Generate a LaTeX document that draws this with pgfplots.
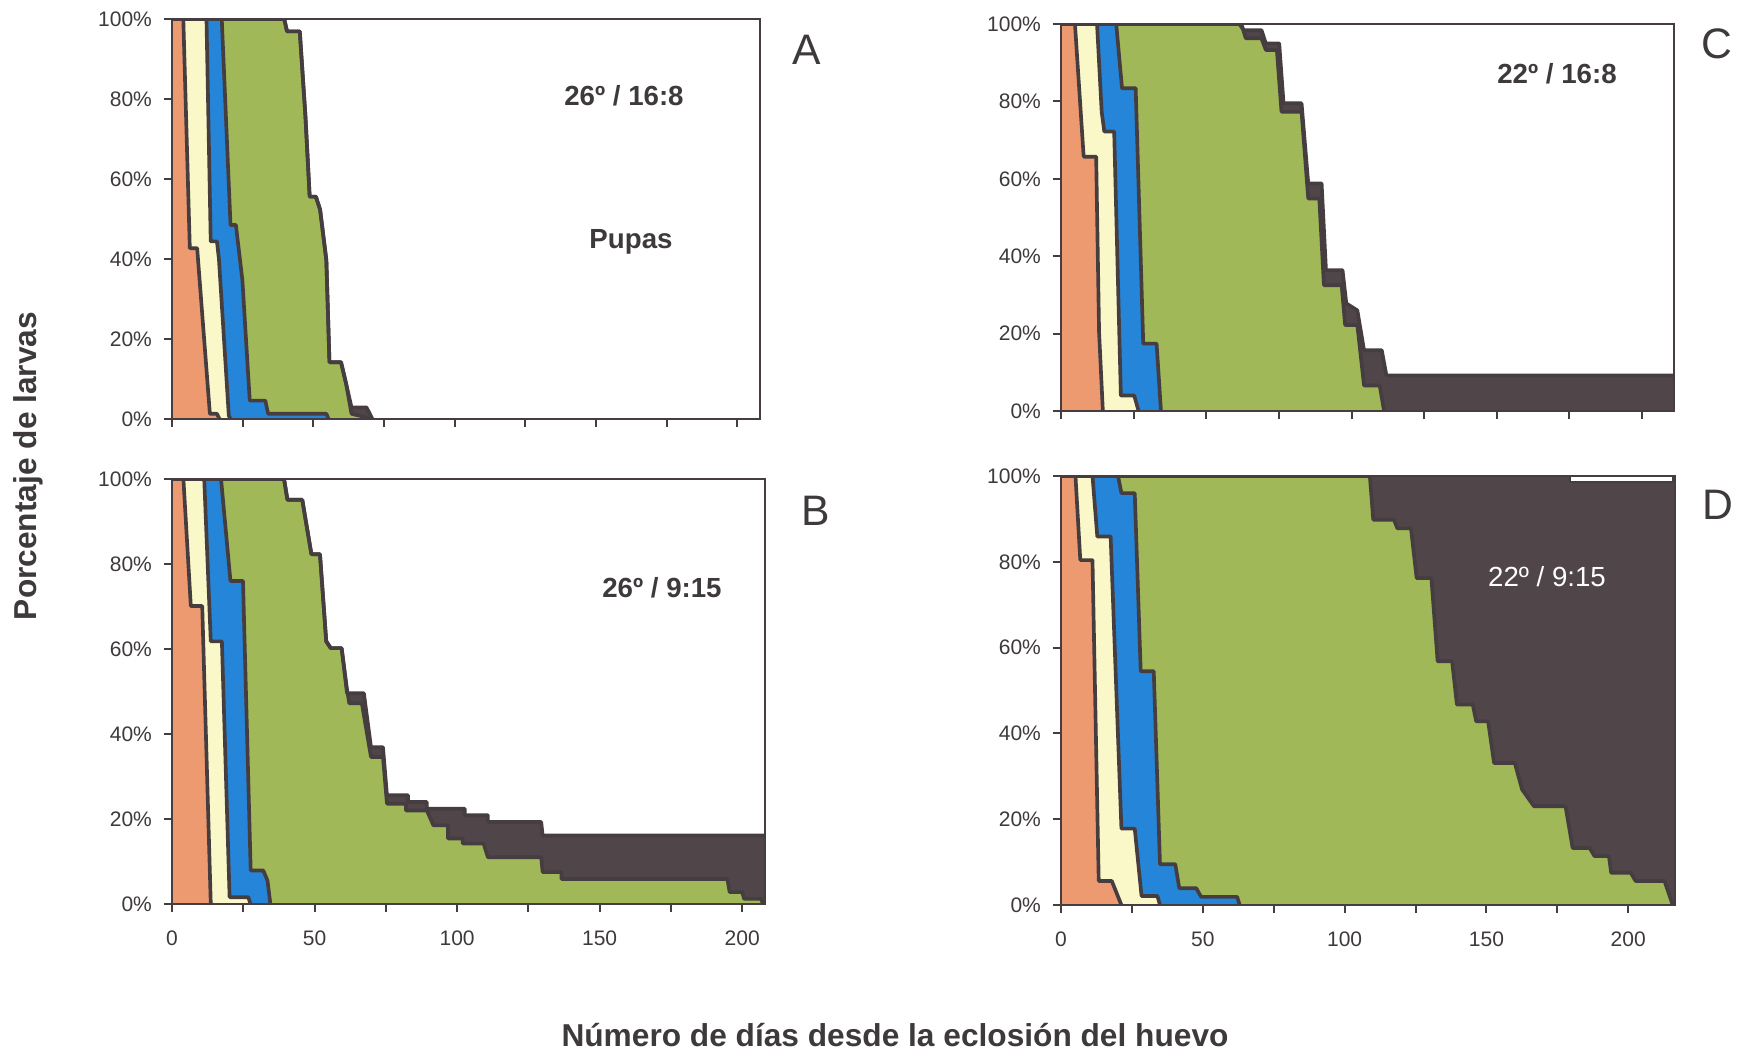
\documentclass[border=0pt]{standalone}
\usepackage{pgfplots}
\pgfplotsset{compat=1.18}
\usepackage{fontspec}
\setmainfont{Liberation Sans}
\definecolor{cor}{HTML}{EE9A70}
\definecolor{cye}{HTML}{FAF8C8}
\definecolor{cbl}{HTML}{2585D8}
\definecolor{cgr}{HTML}{A0B858}
\definecolor{cdk}{HTML}{504548}
\definecolor{cln}{HTML}{453D40}
\definecolor{txt}{HTML}{3E393B}
\pgfplotsset{
 panel/.style={scale only axis, anchor=north west, axis on top, xmin=0, ymin=0, ymax=100,
  axis line style={draw=cln, line width=0.7pt},
  tick align=outside, major tick length=2.5pt, minor tick length=2.5pt,
  tick style={draw=cln, line width=0.6pt},
  xtick pos=bottom, ytick pos=left,
  ytick={0,20,...,100}, yticklabel={\pgfmathprintnumber{\tick}\%},
  xtick={0,50,...,200}, minor xtick={25,75,...,200},
  ticklabel style={font=\fontsize{6.3}{7}\selectfont, text=txt},
  xticklabel style={yshift=-2pt},
  /pgf/number format/assume math mode=true},
 f1/.style={fill=cor, draw=none},
 f2/.style={fill=cye, draw=none},
 f3/.style={fill=cbl, draw=none},
 f4/.style={fill=cgr, draw=none},
 f5/.style={fill=cdk, draw=none},
 bd/.style={draw=cln, line width=1.1pt, line join=round, mark=none},
}
\begin{document}
\begin{tikzpicture}
\useasboundingbox (0,0) rectangle (521.7pt,-315.3pt);
% ---------------- Panel A ----------------
\begin{axis}[panel, at={(51.6pt,-5.7pt)}, width=176.4pt, height=120pt, xmax=208, xticklabels={}]
\def\cA{(0,100)(4.0,100)(6.3,42.7)(8.9,42.7)(13.4,1.3)(15.9,1.3)(16.8,0)}
\def\cB{(0,100)(12.2,100)(13.7,44.4)(15.9,44.4)(16.6,40)(20.1,0.8)(20.7,0)}
\def\cC{(0,100)(17.6,100)(20.7,48.5)(22.6,48.5)(24.9,34.7)(27.5,4.6)(33.0,4.6)(34.0,1.3)(54.6,1.3)(55.4,0)}
\def\cD{(0,100)(39.7,100)(40.7,96.9)(45.2,96.9)(47.2,75.7)(48.7,55.6)(50.9,55.6)(52.4,52.3)(54.6,39.7)(55.7,14.2)(59.8,14.2)(61.6,8.8)(63.5,1.3)(68.8,0.4)(69.3,0)}
\def\cE{(0,100)(39.7,100)(40.7,96.9)(45.2,96.9)(47.2,75.7)(48.7,55.6)(50.9,55.6)(52.4,52.3)(54.6,39.7)(55.7,14.2)(59.8,14.2)(61.6,8.8)(63.5,2.9)(68.8,2.9)(70.9,0)}
\addplot[f5] coordinates \cE \closedcycle;
\addplot[f4] coordinates \cD \closedcycle;
\addplot[f3] coordinates \cC \closedcycle;
\addplot[f2] coordinates \cB \closedcycle;
\addplot[f1] coordinates \cA \closedcycle;
\addplot[bd] coordinates \cE;
\addplot[bd] coordinates \cD;
\addplot[bd] coordinates \cC;
\addplot[bd] coordinates \cB;
\addplot[bd] coordinates \cA;
\end{axis}
% ---------------- Panel B ----------------
\begin{axis}[panel, at={(51.6pt,-143.7pt)}, width=177.9pt, height=127.5pt, xmax=208]
\def\cA{(0,100)(4.0,100)(6.6,70.1)(10.6,70.1)(13.6,0)}
\def\cB{(0,100)(11.3,100)(13.6,61.8)(17.5,61.8)(20.2,1.6)(26.8,1.6)(27.5,0)}
\def\cC{(0,100)(17.2,100)(20.5,76)(24.9,76)(27.6,7.9)(32.0,7.9)(33.5,5.5)(34.5,0)}
\def\cD{(0,100)(39.3,100)(40.5,95.1)(45.7,95.1)(48.9,82.3)(51.9,82.3)(54.1,61.8)(55.7,60.2)(59.5,60.2)(61.4,50.4)(62.2,47.2)(66.6,47.2)(69.8,34.6)(74.0,34.6)(75.4,23.6)(82.1,23.6)(82.1,22.0)(89.4,22.0)(91.7,18.5)(96.8,18.5)(96.8,15.4)(102.0,15.4)(102.0,14.2)(109.3,14.2)(110.8,11.0)(129.5,11.0)(130.0,7.5)(136.6,7.5)(136.6,5.9)(194.8,5.9)(195.6,2.8)(200.0,2.8)(200.7,1.2)(206.6,1.2)(207.3,0)}
\def\cE{(0,100)(39.3,100)(40.5,95.1)(45.7,95.1)(48.9,82.3)(51.9,82.3)(54.1,61.8)(55.7,60.2)(59.5,60.2)(61.4,49.6)(67.3,49.6)(69.8,36.9)(74.0,36.9)(75.4,25.6)(82.8,25.6)(82.8,24.0)(89.4,24.0)(89.4,22.4)(102.7,22.4)(102.7,20.9)(110.8,20.9)(110.8,19.3)(129.5,19.3)(130.0,16.1)(208,16.1)}
\addplot[f5] coordinates \cE \closedcycle;
\addplot[f4] coordinates \cD \closedcycle;
\addplot[f3] coordinates \cC \closedcycle;
\addplot[f2] coordinates \cB \closedcycle;
\addplot[f1] coordinates \cA \closedcycle;
\addplot[bd] coordinates \cE;
\addplot[bd] coordinates \cD;
\addplot[bd] coordinates \cC;
\addplot[bd] coordinates \cB;
\addplot[bd] coordinates \cA;
\end{axis}
% ---------------- Panel C ----------------
\begin{axis}[panel, at={(318.3pt,-7.2pt)}, width=183.9pt, height=116.1pt, xmax=211, xticklabels={}]
\def\cA{(0,100)(4.8,100)(7.8,65.7)(12.1,65.7)(13.1,20.4)(14.4,0)}
\def\cB{(0,100)(12.4,100)(14.0,77.3)(14.9,72.2)(18.3,72.2)(20.6,4)(25.2,4)(26.7,0)}
\def\cC{(0,100)(19.0,100)(21.0,83.4)(25.7,83.4)(28.3,17.4)(32.9,17.4)(34.4,0)}
\def\cD{(0,100)(62.1,100)(63.6,96.3)(69.0,96.3)(70.5,93.3)(74.3,93.3)(75.9,77.3)(82.8,77.3)(85.1,54.9)(88.9,54.9)(90.5,32.5)(96.6,32.5)(97.8,22.2)(102.0,22.2)(104.3,6.6)(109.7,6.6)(111.2,0)}
\def\cE{(0,100)(61.4,100)(62.9,98.4)(69.0,98.4)(70.5,95)(75.1,95)(76.6,79.5)(82.8,79.5)(85.1,58.8)(89.7,58.8)(91.2,36.4)(96.9,36.4)(98.2,27.8)(102.0,26.0)(104.3,15.7)(110.4,15.7)(112.0,9.2)(211,9.2)}
\addplot[f5] coordinates \cE \closedcycle;
\addplot[f4] coordinates \cD \closedcycle;
\addplot[f3] coordinates \cC \closedcycle;
\addplot[f2] coordinates \cB \closedcycle;
\addplot[f1] coordinates \cA \closedcycle;
\addplot[bd] coordinates \cE;
\addplot[bd] coordinates \cD;
\addplot[bd] coordinates \cC;
\addplot[bd] coordinates \cB;
\addplot[bd] coordinates \cA;
\end{axis}
% ---------------- Panel D ----------------
\begin{axis}[panel, at={(318.3pt,-142.8pt)}, width=184.2pt, height=128.7pt, xmax=216.5]
\def\cA{(0,100)(5.1,100)(6.8,80.4)(11.1,80.4)(13.3,5.6)(17.9,5.6)(21.3,0)}
\def\cB{(0,100)(11.1,100)(12.8,85.9)(17.5,85.9)(21.3,17.8)(26.0,17.8)(28.4,2.1)(34.0,2.1)(34.9,0)}
\def\cC{(0,100)(20.1,100)(21.3,96)(26.0,96)(28.1,54.5)(32.7,54.5)(34.9,9.5)(40.3,9.5)(41.7,3.9)(47.7,3.9)(49.4,1.9)(62.1,1.9)(63.0,0)}
\def\cD{(0,100)(108.9,100)(110.1,89.8)(117.4,89.8)(118.6,87.8)(123.4,87.8)(125.4,76.2)(130.6,76.2)(132.8,56.8)(137.9,56.8)(139.6,46.7)(145.2,46.7)(146.4,42.8)(150.6,42.8)(152.7,33.1)(160.0,33.1)(162.6,26.9)(166.8,23.0)(177.9,23.0)(180.4,13.3)(186.4,13.3)(188.1,11.4)(193.2,11.4)(194.0,7.5)(200.9,7.5)(202.6,5.6)(212.8,5.6)(215.7,0)}
\def\cE{(0,100)(179.6,100)(179.6,98.5)(215.7,98.5)(215.7,100)(216.5,100)}
\addplot[f5] coordinates \cE \closedcycle;
\addplot[f4] coordinates \cD \closedcycle;
\addplot[f3] coordinates \cC \closedcycle;
\addplot[f2] coordinates \cB \closedcycle;
\addplot[f1] coordinates \cA \closedcycle;
\addplot[bd, line width=0.6pt] coordinates \cE;
\addplot[bd] coordinates \cD;
\addplot[bd] coordinates \cC;
\addplot[bd] coordinates \cB;
\addplot[bd] coordinates \cA;
\end{axis}
% ---------------- Texts ----------------
\begin{scope}[every node/.style={text=txt, inner sep=0pt}]
\node[font=\fontsize{8.3}{10}\selectfont\bfseries] at (187.2pt,-28.8pt) {26º / 16:8};
\node[font=\fontsize{8.3}{10}\selectfont\bfseries] at (189.3pt,-72.6pt) {Pupas};
\node[font=\fontsize{8.3}{10}\selectfont\bfseries] at (198.6pt,-176.4pt) {26º / 9:15};
\node[font=\fontsize{8.3}{10}\selectfont\bfseries] at (467.1pt,-22.2pt) {22º / 16:8};
\node[font=\fontsize{8.3}{10}\selectfont, text=white] at (464.1pt,-173.1pt) {22º / 9:15};
\node[font=\fontsize{12.8}{14}\selectfont] at (242.1pt,-15pt) {A};
\node[font=\fontsize{12.8}{14}\selectfont] at (244.8pt,-153.3pt) {B};
\node[font=\fontsize{12.8}{14}\selectfont] at (515.1pt,-13.2pt) {C};
\node[font=\fontsize{12.8}{14}\selectfont] at (515.4pt,-151.5pt) {D};
\node[font=\fontsize{9.5}{11}\selectfont\bfseries, rotate=90] at (8.4pt,-139.8pt) {Porcentaje de larvas};
\node[font=\fontsize{9.5}{11}\selectfont\bfseries] at (268.5pt,-310.5pt) {Número de días desde la eclosión del huevo};
\end{scope}
\end{tikzpicture}
\end{document}
